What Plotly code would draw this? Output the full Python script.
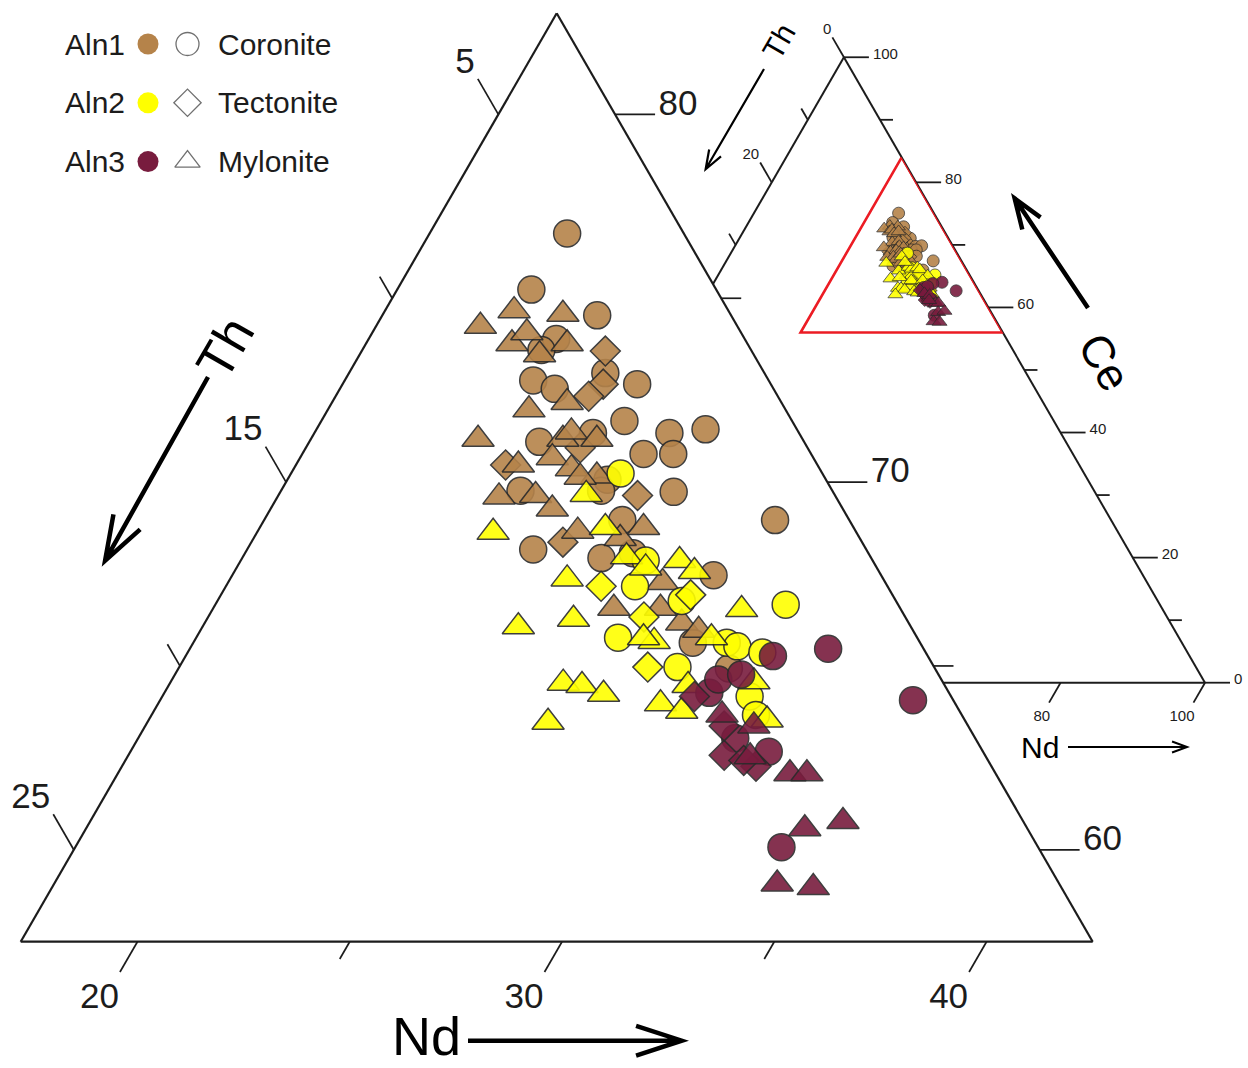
import math
import plotly.graph_objects as go

W, H = 1248, 1068
SQ3 = math.sqrt(3.0)

# ---------------------------------------------------------------
# Data: compositions (Ce, Th, Nd),
# expressed in the main diagram's axis units
# ---------------------------------------------------------------
ALN1_CORONITE = [
    (76.8, 5.0, 20.5), (75.2, 6.6, 20.4), (74.5, 5.4, 22.3), (74.0, 6.7, 21.7),
    (73.7, 7.2, 21.5), (72.8, 7.8, 21.7), (72.5, 7.4, 22.3), (73.0, 6.0, 23.3),
    (72.7, 5.4, 24.2), (71.7, 6.2, 24.4), (71.3, 5.3, 25.6), (71.4, 4.4, 26.4),
    (71.2, 8.5, 22.7), (70.8, 6.2, 25.3), (70.8, 5.5, 26.0), (69.7, 6.0, 26.5),
    (71.3, 7.1, 23.8), (70.1, 7.4, 24.8), (69.8, 9.6, 22.9), (69.8, 7.7, 24.8),
    (69.0, 4.0, 29.3), (68.2, 10.1, 24.0), (67.5, 6.2, 28.6), (67.9, 8.6, 25.7),
    (65.6, 7.6, 29.0), (64.9, 7.1, 30.2), (69.0, 7.6, 25.7), (68.1, 7.8, 26.4),
]
ALN1_TECTONITE = [
    (73.6, 5.7, 23.0), (72.7, 6.2, 23.4), (72.3, 6.7, 23.2), (70.5, 9.6, 22.2),
    (69.6, 6.9, 25.7), (68.4, 9.3, 24.6), (70.9, 7.6, 23.7),
]
ALN1_MYLONITE = [
    (74.7, 7.3, 20.3), (74.6, 6.2, 21.5), (74.2, 8.3, 19.7), (73.8, 7.8, 20.7),
    (74.1, 7.3, 20.9), (73.5, 7.3, 21.5), (73.8, 6.5, 22.0), (72.0, 8.3, 22.0),
    (72.2, 7.3, 22.8), (71.2, 9.9, 21.2), (71.2, 7.9, 23.2), (71.4, 7.6, 23.3),
    (71.2, 7.1, 24.0), (70.5, 9.3, 22.5), (70.7, 8.4, 23.2), (70.4, 8.1, 23.8),
    (70.2, 7.6, 24.5), (69.7, 10.2, 22.5), (69.6, 9.3, 23.3), (69.3, 9.1, 23.9),
    (70.1, 8.0, 24.1), (68.7, 8.8, 24.8), (68.5, 7.9, 25.9), (68.8, 7.2, 26.3),
    (67.3, 7.5, 27.5), (66.6, 9.0, 26.7), (66.6, 7.9, 27.8), (66.2, 7.6, 28.5),
    (66.0, 7.3, 29.0),
]
ALN2_CORONITE = [
    (66.7, 4.9, 30.7), (65.8, 9.3, 27.2), (67.2, 8.2, 26.9), (65.0, 8.3, 29.0),
    (65.6, 6.8, 29.8), (65.5, 6.6, 30.1), (65.4, 6.1, 30.8), (64.2, 7.0, 31.1),
    (63.7, 7.1, 31.5), (66.8, 7.3, 28.2), (67.9, 7.6, 26.8), (70.2, 7.0, 25.0),
]
ALN2_TECTONITE = [
    (67.2, 9.0, 26.1), (66.3, 8.4, 27.5), (66.9, 7.0, 28.3), (65.0, 9.0, 28.3),
]
ALN2_MYLONITE = [
    (68.6, 10.8, 22.8), (67.4, 9.7, 25.2), (68.0, 8.0, 26.3), (67.7, 7.7, 26.9),
    (67.9, 6.8, 27.6), (67.6, 6.6, 28.1), (66.5, 6.0, 29.7), (66.1, 11.5, 24.7),
    (66.3, 10.1, 25.9), (65.7, 8.5, 28.1), (65.8, 8.7, 27.8), (65.8, 7.1, 29.4),
    (64.5, 8.3, 29.5), (64.6, 6.7, 31.0), (63.5, 6.9, 31.8), (64.5, 11.2, 26.5),
    (64.5, 10.8, 27.0), (64.2, 10.4, 27.6), (64.0, 9.2, 29.1), (63.8, 8.8, 29.7),
    (63.5, 12.1, 26.7), (69.7, 8.1, 24.5), (68.8, 8.1, 25.4),
]
ALN3_CORONITE = [
    (65.5, 4.5, 32.3), (65.3, 5.9, 31.1), (64.3, 7.9, 30.1), (64.6, 7.5, 30.1),
    (63.0, 7.9, 31.3), (62.7, 7.3, 32.3), (60.1, 8.3, 33.9), (64.1, 3.2, 35.0),
    (64.8, 6.9, 30.6),
]
ALN3_TECTONITE = [
    (64.2, 8.3, 29.8), (62.6, 8.4, 31.3), (62.3, 7.8, 32.2), (62.4, 8.0, 31.8),
    (63.4, 8.0, 30.9),
]
ALN3_MYLONITE = [
    (63.7, 7.9, 30.7), (63.4, 7.3, 31.6), (62.1, 7.1, 33.1), (62.1, 6.7, 33.5),
    (60.6, 7.5, 34.2), (60.8, 6.5, 35.0), (59.1, 8.9, 34.3), (59.0, 8.1, 35.2),
    (62.5, 7.8, 31.9),
]

GROUP_LABELS = ["Aln1", "Aln2", "Aln3"]
ROCK_LABELS = ["Coronite", "Tectonite", "Mylonite"]
GROUP_COLORS = ["#b5834a", "#ffff00", "#781c3e"]

# axis ticks
MAIN_CE_TICKS = [80, 70, 60]
MAIN_CE_MINOR = [75, 65]
MAIN_TH_TICKS = [5, 15, 25]
MAIN_TH_MINOR = [10, 20]
MAIN_ND_TICKS = [20, 30, 40]
MAIN_ND_MINOR = [25, 35]
INSET_CE_TICKS = [100, 80, 60, 40, 20, 0]
INSET_CE_MINOR = [90, 70, 50, 30, 10]
INSET_TH_TICKS = [0, 20]
INSET_TH_MINOR = [10, 30]
INSET_ND_TICKS = [80, 100]
# zoom window drawn in the inset (Ce, Th, Nd)
ZOOM_FRAME = [(84, 0, 16), (56, 28, 16), (56, 0, 44), (84, 0, 16)]

# ---------------------------------------------------------------
# Styling / layout constants
# ---------------------------------------------------------------
FONT = "Arial, Liberation Sans, Helvetica, sans-serif"
INK = "#1c1c1c"
EDGE = "#2a2a2a"

MAIN_SUM = 102.25
MAIN_CE_MIN, MAIN_TH_MIN, MAIN_ND_MIN = 57.5, 2.25, 17.25
MAIN_PX = (20.7, 13.3, 1092.7, 941.7)      # triangle box in page pixels
INSET_SUM = 100.0
INSET_PX = (482.8, 57.3, 1205.0, 682.7)

MAIN_SPAN = MAIN_SUM - MAIN_CE_MIN - MAIN_TH_MIN - MAIN_ND_MIN
MAIN_UNIT = (MAIN_PX[2] - MAIN_PX[0]) / MAIN_SPAN
INSET_UNIT = (INSET_PX[2] - INSET_PX[0]) / INSET_SUM

SYMBOLS = {"Coronite": "circle", "Tectonite": "diamond", "Mylonite": "triangle-up"}
MAIN_SIZE = {"circle": 27, "diamond": 23, "triangle-up": 28}
INSET_SIZE = {"circle": 12, "diamond": 10, "triangle-up": 13}

SERIES = [
    (ALN1_CORONITE, 0, "Coronite"), (ALN1_TECTONITE, 0, "Tectonite"), (ALN1_MYLONITE, 0, "Mylonite"),
    (ALN2_CORONITE, 1, "Coronite"), (ALN2_TECTONITE, 1, "Tectonite"), (ALN2_MYLONITE, 1, "Mylonite"),
    (ALN3_CORONITE, 2, "Coronite"), (ALN3_TECTONITE, 2, "Tectonite"), (ALN3_MYLONITE, 2, "Mylonite"),
]


def domain(box):
    l, t, r, b = box
    return dict(x=[l / W, r / W], y=[1 - b / H, 1 - t / H])


def overlay(box, unit, x_bl, y_bl):
    """Cartesian axes (x = c - b, y = a) registered on a ternary triangle, spanning the page."""
    l, t, r, b = box
    sx, sy = unit / 2, unit * SQ3 / 2
    return [x_bl - l / sx, x_bl + (W - l) / sx], [y_bl - (H - b) / sy, y_bl + b / sy], sx, sy


MAIN_XR, MAIN_YR, MAIN_SX, MAIN_SY = overlay(
    MAIN_PX, MAIN_UNIT, MAIN_ND_MIN - (MAIN_SUM - MAIN_CE_MIN - MAIN_ND_MIN), MAIN_CE_MIN)
INSET_XR, INSET_YR, INSET_SX, INSET_SY = overlay(INSET_PX, INSET_UNIT, -INSET_SUM, 0.0)

CE_OUT = (0, -1, 1)    # along a constant-Ce line, outward of the right edge
TH_OUT = (1, 0, -1)    # along a constant-Th line, outward of the left edge
ND_OUT = (-1, 1, 0)    # along a constant-Nd line, outward of the bottom edge


def tw(t, fs):
    return 0.556 * fs * len(t)


def tick_set(ax, unit, sx, sy, pts, out, length, width, labels=None, fs=None, off=None):
    xa, ya = ax
    k = length / unit
    xs, ys, ends = [], [], []
    for a, b, c in pts:
        a1, b1, c1 = a + out[0] * k, b + out[1] * k, c + out[2] * k
        xs += [c - b, c1 - b1, None]
        ys += [a, a1, None]
        ends.append((c1 - b1, a1))
    res = [go.Scatter(x=xs, y=ys, xaxis=xa, yaxis=ya, mode="lines", hoverinfo="skip",
                      showlegend=False, line=dict(color=INK, width=width))]
    if labels:
        lx, ly = [], []
        for (x1, y1), t in zip(ends, labels):
            ox, oy = off(t)
            lx.append(x1 + ox / sx)
            ly.append(y1 - oy / sy)
        res.append(go.Scatter(x=lx, y=ly, xaxis=xa, yaxis=ya, mode="text", text=labels,
                              textposition="middle center", hoverinfo="skip", showlegend=False,
                              textfont=dict(family=FONT, size=fs, color=INK)))
    return res


fig = go.Figure()

# ---------------- inset (full triangle) ----------------
for data, g, rock in SERIES:
    sym = SYMBOLS[rock]
    fig.add_trace(go.Scatterternary(
        subplot="ternary", a=[p[0] for p in data], b=[p[1] for p in data], c=[p[2] for p in data],
        mode="markers", showlegend=False, hoverinfo="skip",
        marker=dict(symbol=sym, size=INSET_SIZE[sym], color=GROUP_COLORS[g], opacity=0.9,
                    line=dict(color=EDGE, width=0.8))))

fig.add_trace(go.Scatterternary(
    subplot="ternary", a=[p[0] for p in ZOOM_FRAME], b=[p[1] for p in ZOOM_FRAME],
    c=[p[2] for p in ZOOM_FRAME], mode="lines", line=dict(color="#ec1c24", width=2.6),
    hoverinfo="skip", showlegend=False))

IAX = ("x3", "y3")
IFS = 15
for tr in (
    tick_set(IAX, INSET_UNIT, INSET_SX, INSET_SY, [(v, 0, INSET_SUM - v) for v in INSET_CE_TICKS],
             CE_OUT, 25, 1.8, [str(v) for v in INSET_CE_TICKS], IFS, lambda t: (tw(t, IFS) / 2 + 4, -2.5))
    + tick_set(IAX, INSET_UNIT, INSET_SX, INSET_SY, [(v, 0, INSET_SUM - v) for v in INSET_CE_MINOR],
               CE_OUT, 13, 1.8)
    + tick_set(IAX, INSET_UNIT, INSET_SX, INSET_SY, [(INSET_SUM - v, v, 0) for v in INSET_TH_TICKS],
               TH_OUT, 23, 1.8, [str(v) for v in INSET_TH_TICKS], IFS, lambda t: (-tw(t, IFS) / 2 - 1, -7))
    + tick_set(IAX, INSET_UNIT, INSET_SX, INSET_SY, [(INSET_SUM - v, v, 0) for v in INSET_TH_MINOR],
               TH_OUT, 13, 1.8)
    + tick_set(IAX, INSET_UNIT, INSET_SX, INSET_SY, [(0, INSET_SUM - v, v) for v in INSET_ND_TICKS],
               ND_OUT, 23, 1.8, [str(v) for v in INSET_ND_TICKS], IFS, lambda t: (-tw(t, IFS) / 2 + 1, 15))
):
    fig.add_trace(tr)

# ---------------- main (zoomed) triangle ----------------
for data, g, rock in SERIES:
    sym = SYMBOLS[rock]
    fig.add_trace(go.Scatterternary(
        subplot="ternary2", a=[p[0] for p in data], b=[p[1] for p in data], c=[p[2] for p in data],
        mode="markers", name=f"{GROUP_LABELS[g]} {rock}", showlegend=False,
        hovertemplate="Ce %{a:.1f}<br>Th %{b:.1f}<br>Nd %{c:.1f}<extra></extra>",
        marker=dict(symbol=sym, size=MAIN_SIZE[sym], color=GROUP_COLORS[g], opacity=0.9,
                    line=dict(color=EDGE, width=1.5))))

MAX = ("x2", "y2")
MFS = 35
ce_edge = lambda v: (v, MAIN_TH_MIN, MAIN_SUM - v - MAIN_TH_MIN)
th_edge = lambda v: (MAIN_SUM - v - MAIN_ND_MIN, v, MAIN_ND_MIN)
nd_edge = lambda v: (MAIN_CE_MIN, MAIN_SUM - MAIN_CE_MIN - v, v)

for tr in (
    tick_set(MAX, MAIN_UNIT, MAIN_SX, MAIN_SY, [ce_edge(v) for v in MAIN_CE_TICKS], CE_OUT, 40, 1.7,
             [str(v) for v in MAIN_CE_TICKS], MFS, lambda t: (tw(t, MFS) / 2 + 3.5, -8.5))
    + tick_set(MAX, MAIN_UNIT, MAIN_SX, MAIN_SY, [ce_edge(v) for v in MAIN_CE_MINOR], CE_OUT, 20, 1.7)
    + tick_set(MAX, MAIN_UNIT, MAIN_SX, MAIN_SY, [th_edge(v) for v in MAIN_TH_TICKS], TH_OUT, 41, 1.7,
               [str(v) for v in MAIN_TH_TICKS], MFS, lambda t: (-tw(t, MFS) / 2 - 3, -15))
    + tick_set(MAX, MAIN_UNIT, MAIN_SX, MAIN_SY, [th_edge(v) for v in MAIN_TH_MINOR], TH_OUT, 25, 1.7)
    + tick_set(MAX, MAIN_UNIT, MAIN_SX, MAIN_SY, [nd_edge(v) for v in MAIN_ND_TICKS], ND_OUT, 35, 1.7,
               [str(v) for v in MAIN_ND_TICKS], MFS, lambda t: (-tw(t, MFS) / 2 - 1, 27))
    + tick_set(MAX, MAIN_UNIT, MAIN_SX, MAIN_SY, [nd_edge(v) for v in MAIN_ND_MINOR], ND_OUT, 20, 1.7)
):
    fig.add_trace(tr)

# ---------------- legend (key drawn on a hidden pixel-scaled axis) ----------------
LEG_Y0, LEG_DY = 44, 58.8
LEG_X = dict(group=63, dot=148, shape=187.5, rock=216)
rows = [LEG_Y0 + i * LEG_DY for i in range(3)]
fig.add_trace(go.Scatter(
    x=[LEG_X["dot"]] * 3, y=rows, mode="markers", hoverinfo="skip", showlegend=False,
    marker=dict(size=21, color=GROUP_COLORS, line=dict(width=0))))
fig.add_trace(go.Scatter(
    x=[LEG_X["shape"]] * 3, y=rows, mode="markers", hoverinfo="skip", showlegend=False,
    marker=dict(symbol=[SYMBOLS[r] + "-open" for r in ROCK_LABELS], size=[23, 21, 22],
                color="#333", line=dict(color="#333", width=1.3))))

annotations = []
for i in range(3):
    annotations.append(dict(x=LEG_X["group"], y=rows[i], xref="x", yref="y", text=GROUP_LABELS[i],
                            showarrow=False, xanchor="left", yanchor="middle",
                            font=dict(family=FONT, size=30, color=INK)))
    annotations.append(dict(x=LEG_X["rock"], y=rows[i], xref="x", yref="y", text=ROCK_LABELS[i],
                            showarrow=False, xanchor="left", yanchor="middle",
                            font=dict(family=FONT, size=30, color=INK)))


def paper_text(text, x, y, size, angle=0):
    return dict(x=x / W, y=1 - y / H, xref="paper", yref="paper", text=text, showarrow=False,
                textangle=angle, xanchor="center", yanchor="middle",
                font=dict(family=FONT, size=size, color="#000"))


annotations += [
    paper_text("Th", 225, 348, 52, -60),
    paper_text("Nd", 426.7, 1036, 54),
    paper_text("Th", 779, 42, 30, -60),
    paper_text("Nd", 1040, 747, 30),
    paper_text("Ce", 1105, 362, 45, 60),
]


def arrow(tail, head, arm, half_deg, width):
    (x0, y0), (x1, y1) = tail, head
    back = math.atan2(y0 - y1, x0 - x1)
    h = math.radians(half_deg)
    pull = width / (2 * math.sin(h))
    hx, hy = x1 + pull * math.cos(back), y1 + pull * math.sin(back)
    a1 = (hx + arm * math.cos(back + h), hy + arm * math.sin(back + h))
    a2 = (hx + arm * math.cos(back - h), hy + arm * math.sin(back - h))

    def P(pt):
        return f"{pt[0] / W:.5f},{1 - pt[1] / H:.5f}"

    path = f"M{P(tail)} L{P((hx, hy))} M{P(a1)} L{P((hx, hy))} L{P(a2)}"
    return dict(type="path", xref="paper", yref="paper", path=path,
                line=dict(color="#000", width=width))


shapes = [
    arrow((208, 377), (101.7, 566.7), 47, 19, 4.5),
    arrow((468, 1040.7), (689, 1040.7), 48, 18, 4.5),
    arrow((764, 69), (704, 172), 20, 20, 2.2),
    arrow((1068, 747), (1190, 747), 16, 20, 2.0),
    arrow((1088, 308), (1011, 193), 32, 20, 4.5),
]


def tern_axis(mn, width, layer="above traces"):
    return dict(min=mn, showticklabels=False, ticks="", showgrid=False, showline=True,
                linecolor=INK, linewidth=width, title=dict(text=""), layer=layer)


hidden = dict(visible=False, fixedrange=True, showgrid=False, zeroline=False)
fig.update_layout(
    width=W, height=H, margin=dict(l=0, r=0, t=0, b=0),
    paper_bgcolor="white", plot_bgcolor="rgba(0,0,0,0)", showlegend=False,
    ternary=dict(sum=INSET_SUM, domain=domain(INSET_PX), bgcolor="rgba(0,0,0,0)",
                 aaxis=tern_axis(0, 2, "below traces"), baxis=tern_axis(0, 2, "below traces"),
                 caxis=tern_axis(0, 2, "below traces")),
    ternary2=dict(sum=MAIN_SUM, domain=domain(MAIN_PX), bgcolor="white",
                  aaxis=tern_axis(MAIN_CE_MIN, 2.2), baxis=tern_axis(MAIN_TH_MIN, 2.2),
                  caxis=tern_axis(MAIN_ND_MIN, 2.2)),
    xaxis=dict(range=[0, W], domain=[0, 1], **hidden),
    yaxis=dict(range=[H, 0], domain=[0, 1], **hidden),
    xaxis2=dict(range=MAIN_XR, overlaying="x", anchor="y2", **hidden),
    yaxis2=dict(range=MAIN_YR, overlaying="y", anchor="x2", **hidden),
    xaxis3=dict(range=INSET_XR, overlaying="x", anchor="y3", **hidden),
    yaxis3=dict(range=INSET_YR, overlaying="y", anchor="x3", **hidden),
    annotations=annotations,
    shapes=shapes,
)

fig.write_html("out.html", config={"displayModeBar": False},
               post_script="document.body.style.margin='0px';")
